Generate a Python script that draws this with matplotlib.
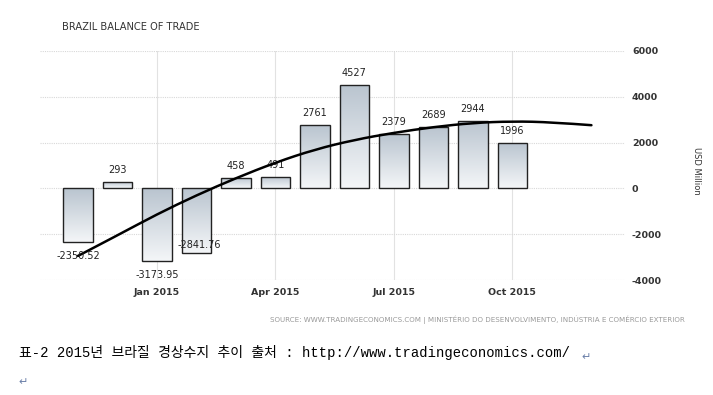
import numpy as np
import matplotlib
matplotlib.use("Agg")
import matplotlib.pyplot as plt
from matplotlib.colors import LinearSegmentedColormap
from matplotlib.path import Path
from matplotlib.patches import PathPatch

plt.rcParams['font.family'] = ['DejaVu Sans']

# data (USD million), Nov 2014 .. Oct 2015
months = ["Nov 2014", "Dec 2014", "Jan 2015", "Feb 2015", "Mar 2015", "Apr 2015",
          "May 2015", "Jun 2015", "Jul 2015", "Aug 2015", "Sep 2015", "Oct 2015"]
values = [-2350.52, 293, -3173.95, -2841.76, 458, 491, 2761, 4527, 2379, 2689, 2944, 1996]
labels = ["-2350.52", "293", "-3173.95", "-2841.76", "458", "491", "2761", "4527",
          "2379", "2689", "2944", "1996"]
# trend line, one point per month (Nov 2014 .. Dec 2015)
trend = [-2950, -2050, -1130, -300, 450, 1130, 1700, 2120, 2430, 2680, 2860, 2930, 2890, 2760]
tick_idx = [2, 5, 8, 11]
tick_lbl = ["Jan 2015", "Apr 2015", "Jul 2015", "Oct 2015"]
yticks = [-4000, -2000, 0, 2000, 4000, 6000]

fig = plt.figure(figsize=(7.13, 3.95), dpi=100)
ax = fig.add_axes([40/713, 1-280/395, (625-40)/713, (280-51)/395])

cmap = LinearSegmentedColormap.from_list("bar", ["#b9c4cf", "#f4f6f8"])
grad = np.linspace(0, 1, 256).reshape(-1, 1)
w = 0.75
x = np.arange(len(values))
bars = ax.bar(x, values, width=w, facecolor="none", edgecolor="#222222", linewidth=1.0, zorder=3)
for b, v in zip(bars, values):
    x0 = b.get_x()
    im = ax.imshow(grad, cmap=cmap, aspect="auto",
                   extent=[x0, x0 + w, min(v, 0), max(v, 0)], origin="upper", zorder=2)
    im.set_clip_path(b)

# data labels
for i, (v, s) in enumerate(zip(values, labels)):
    if v >= 0:
        ax.annotate(s, (i, v), xytext=(0, 5), textcoords="offset points",
                    ha="center", va="bottom", fontsize=7, color="#222222")
    else:
        dx, dy = 0, -10
        if s == "-2841.76":
            dx, dy = 2, 6
        ax.annotate(s, (i, v), xytext=(dx, dy), textcoords="offset points",
                    ha="center", va="center", fontsize=7, color="#222222", zorder=5)

# smooth trend line through the read points (quadratic bezier via midpoints)
tx = np.arange(len(trend), dtype=float)
ty = np.array(trend, dtype=float)
verts = [(tx[0], ty[0])]
codes = [Path.MOVETO]
for k in range(1, len(tx) - 1):
    mx, my = (tx[k] + tx[k+1]) / 2, (ty[k] + ty[k+1]) / 2
    if k == len(tx) - 2:
        mx, my = tx[k+1], ty[k+1]
    verts += [(tx[k], ty[k]), (mx, my)]
    codes += [Path.CURVE3, Path.CURVE3]
ax.add_patch(PathPatch(Path(verts, codes), facecolor="none", edgecolor="black",
                       linewidth=1.8, zorder=4, capstyle="round"))

ax.set_xlim(-0.96, 13.85)
ax.set_ylim(-4000, 6000)
ax.set_yticks(yticks)
ax.set_yticklabels([str(t) for t in yticks])
ax.yaxis.tick_right()
ax.set_xticks(tick_idx)
ax.set_xticklabels(tick_lbl)
ax.tick_params(axis="both", length=0, labelsize=6.8, labelcolor="#333333")
ax.tick_params(axis="y", pad=5)
ax.tick_params(axis="x", pad=6)
for lb in ax.get_xticklabels() + ax.get_yticklabels():
    lb.set_fontweight("bold")
ax.grid(axis="y", color="#d8d8d8", linestyle=(0, (1, 1)), linewidth=0.8, zorder=0)
ax.grid(axis="x", color="#e2e2e2", linestyle="-", linewidth=0.8, zorder=0)
for sp in ax.spines.values():
    sp.set_visible(False)

fig.text(62/713, 1-27/395, "BRAZIL BALANCE OF TRADE", fontsize=7.1, color="#333333",
         ha="left", va="center")
fig.text(697/713, 1-171/395, "USD Million", rotation=270, fontsize=6, color="#333333",
         ha="center", va="center")
fig.text(685/713, 1-320/395,
         "SOURCE: WWW.TRADINGECONOMICS.COM | MINISTÉRIO DO DESENVOLVIMENTO, INDÚSTRIA E COMÉRCIO EXTERIOR",
         fontsize=5.15, color="#999999", ha="right", va="center")

fig.text(19/713, 1-353/395, "표-2 2015년 브라질 경상수지 추이 출처 : http://www.tradingeconomics.com/",
         fontsize=10, color="black", ha="left", va="center",
         family=["Liberation Mono", "Noto Sans CJK KR"])
fig.text(581/713, 1-357/395, "\u21b5", fontsize=8, color="#6a7fa8", ha="left", va="center")
fig.text(18/713, 1-382/395, "\u21b5", fontsize=8, color="#6a7fa8", ha="left", va="center")

fig.savefig("out.png", dpi=100)
